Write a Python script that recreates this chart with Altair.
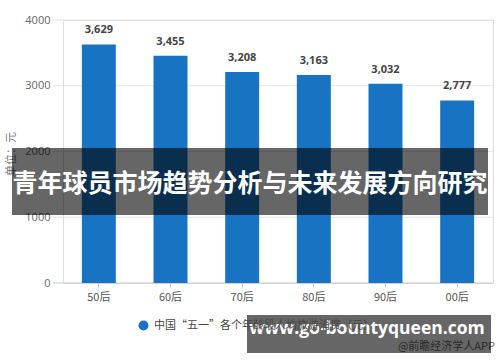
import altair as alt
import pandas as pd

categories = ["50后", "60后", "70后", "80后", "90后", "00后"]
values = [3629, 3455, 3208, 3163, 3032, 2777]
series_name = "中国“五一”各个年龄段人均旅游消费（元）"
y_ticks = [0, 1000, 2000, 3000, 4000]
title_text = "青年球员市场趋势分析与未来发展方向研究"
site_text = "www.go-bountyqueen.com"
source_text = "@前瞻经济学人APP"
unit_text = "单位：元"

BLUE = "#1874c3"
CJK = "Noto Sans CJK SC"

df = pd.DataFrame({"cat": categories, "val": values, "series": [series_name] * len(values)})
grid_df = pd.DataFrame({"v": y_ticks})

W, H = 430, 263

x_enc = alt.X("cat:N", sort=categories,
              scale=alt.Scale(paddingInner=0.526, paddingOuter=0.263),
              axis=alt.Axis(title=None, domain=False, ticks=True, tickSize=4, tickColor="#bbbbbb",
                            labelAngle=0, labelFont=CJK, labelFontSize=11, labelColor="#555555",
                            labelPadding=4, grid=False))
y_scale = alt.Scale(domain=[0, 4000], nice=False)

grid = alt.Chart(grid_df).mark_rule(strokeWidth=1).encode(
    y=alt.Y("v:Q", scale=y_scale, axis=alt.Axis(title=None, values=y_ticks, grid=False, domain=False,
                                                  ticks=False, offset=10, labelPadding=3, format="d",
                                                  labelFont="Open Sans", labelFontSize=11,
                                                  labelColor="#666666")),
    x=alt.value(-10), x2=alt.value(W),
    color=alt.condition(alt.datum.v == 0, alt.value("#c8c8c8"), alt.value("#e3e3e3")),
)

bars = alt.Chart(df).mark_bar(color=BLUE).encode(
    x=x_enc,
    y=alt.Y("val:Q", scale=y_scale),
    color=alt.Color("series:N", scale=alt.Scale(range=[BLUE]),
                    legend=alt.Legend(title=None, orient="none", legendX=75, legendY=300,
                                      symbolType="circle", symbolSize=100, symbolStrokeWidth=0,
                                      labelFont=CJK, labelFontSize=11, labelColor="#444444",
                                      labelOffset=5, padding=0, labelLimit=400)),
)

labels = alt.Chart(df).mark_text(dy=-9, font="Open Sans", fontSize=11, fontWeight="bold",
                                 color="#444444", baseline="bottom").encode(
    x=alt.X("cat:N", sort=categories),
    y=alt.Y("val:Q", scale=y_scale),
    text=alt.Text("val:Q", format=","),
)

unit = alt.Chart(pd.DataFrame({"t": [unit_text]})).mark_text(
    angle=270, font=CJK, fontSize=11, color="#777777", baseline="middle", align="center"
).encode(x=alt.value(-51), y=alt.value(134), text="t:N")

source = alt.Chart(pd.DataFrame({"t": [source_text]})).mark_text(
    font=CJK, fontSize=11, color="#666666", align="right", baseline="middle"
).encode(x=alt.value(432), y=alt.value(327), text="t:N")

band1 = alt.Chart(pd.DataFrame({"t": [title_text]})).mark_rect(color="#000000", opacity=0.6).encode(
    x=alt.value(-51), x2=alt.value(425), y=alt.value(128), y2=alt.value(195))
title = alt.Chart(pd.DataFrame({"t": [title_text]})).mark_text(
    font=CJK, fontSize=25, fontWeight="bold", color="white", align="center", baseline="middle"
).encode(x=alt.value(187), y=alt.value(164), text="t:N")

band2 = alt.Chart(pd.DataFrame({"t": [site_text]})).mark_rect(color="#000000", opacity=0.6).encode(
    x=alt.value(184), x2=alt.value(428), y=alt.value(295), y2=alt.value(333))
site = alt.Chart(pd.DataFrame({"t": [site_text]})).mark_text(
    font="Open Sans", fontSize=17.5, fontWeight="bold", color="white", align="center", baseline="middle"
).encode(x=alt.value(304), y=alt.value(309), text="t:N")

chart = alt.layer(grid, bars, labels, unit, source, band1, title, band2, site).resolve_scale(
    y="shared").properties(
    width=W, height=H,
    autosize=alt.AutoSizeParams(type="none"),
    padding={"left": 63, "top": 20, "right": 7, "bottom": 79},
).configure_view(stroke=None).configure(background="white")

chart.save("out.html", embed_options={"renderer": "svg", "actions": False})
